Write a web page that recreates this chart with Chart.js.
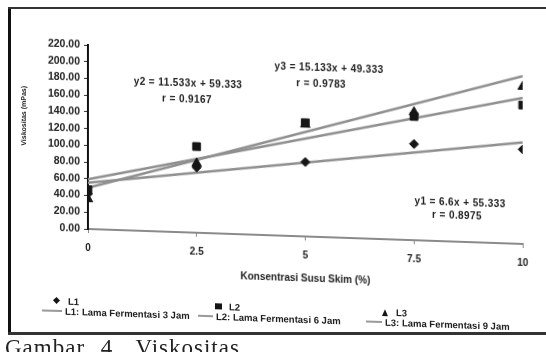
<!DOCTYPE html>
<html>
<head>
<meta charset="utf-8">
<script src="https://cdn.jsdelivr.net/npm/chart.js@4.4.1/dist/chart.umd.min.js"></script>
<style>
  html, body { margin: 0; padding: 0; background: #fff; }
  #wrap { position: relative; width: 546px; height: 352px; overflow: hidden;
          font-family: "Liberation Sans", Arial, sans-serif; color: #222; }
  /* the scan is slightly sheared: the right side sits lower than the left */
  #sheet { position: absolute; left: 0; top: 0; width: 546px; height: 352px;
           transform: skewY(1.97deg); transform-origin: 88px 0; }
  #chart { position: absolute; left: 0; top: 0; }
  .frame-l { position: absolute; left: 8px; top: 7px; width: 3px; height: 328px; background: #111; }
  .frame-t { position: absolute; left: 8px; top: 7px; width: 538px; height: 2px; background: #333; }
  .frame-b { position: absolute; left: 8px; top: 332px; width: 538px; height: 3px; background: #333; }
  .note { position: absolute; font-size: 10px; font-weight: bold; white-space: nowrap; color: #222;
          letter-spacing: 0.4px; transform: translate(-50%, -50%); }
  .lg { position: absolute; font-size: 9.5px; font-weight: bold; white-space: nowrap; color: #222;
        transform: translateY(-50%); }
  .lg-line { position: absolute; height: 2px; background: #999; }
  .ytitle { position: absolute; left: 23px; top: 118px; font-size: 7px; font-weight: bold;
            white-space: nowrap; color: #222; transform: translate(-50%, -50%) rotate(-90deg); }
  .caption { position: absolute; left: 5px; top: 335px; font-family: "Liberation Serif", serif;
             font-size: 23px; color: #222; white-space: nowrap; letter-spacing: 1px; word-spacing: 9px; }
</style>
</head>
<body>
<div id="wrap">
  <div id="sheet">
    <canvas id="chart" width="546" height="352"></canvas>

    <div class="ytitle">Viskositas (mPas)</div>

    <div class="note" style="left:188px; top:79px;">y2 = 11.533x + 59.333</div>
    <div class="note" style="left:187px; top:95px;">r = 0.9167</div>
    <div class="note" style="left:329px; top:59px;">y3 = 15.133x + 49.333</div>
    <div class="note" style="left:321px; top:75px;">r = 0.9783</div>
    <div class="note" style="left:460px; top:189px;">y1 = 6.6x + 55.333</div>
    <div class="note" style="left:457px; top:202px;">r = 0.8975</div>

    <div id="legend"></div>
  </div>

  <div class="frame-l"></div>
  <div class="frame-t"></div>
  <div class="frame-b"></div>
  <div class="caption">Gambar 4. Viskositas</div>
</div>

<script>
// konsentrasi susu skim (%)
const konsentrasi = [0, 2.5, 5, 7.5, 10];

// viskositas per lama fermentasi
const l1Values = [42, 78, 89, 115, 113];
const l2Values = [47, 103, 136, 148, 166];
const l3Values = [36, 83, 134, 153, 188];

// trend line end points (x = 0 and x = 10)
const trendX = [0, 10];
const trend1 = [55.3, 121.3];
const trend2 = [59.3, 174.7];
const trend3 = [49.3, 200.7];

const pointLabels = ['L1', 'L2', 'L3'];
const lineLabels = [
  'L1: Lama Fermentasi 3 Jam',
  'L2: Lama Fermentasi 6 Jam',
  'L3: Lama Fermentasi 9 Jam'
];

const yTicks = [0, 20, 40, 60, 80, 100, 120, 140, 160, 180, 200, 220];

function pairs(xs, ys) {
  return xs.map((x, i) => ({ x: x, y: ys[i] }));
}

const markColor = '#151515';
const trendColor = '#8f8f8f';

function trendSet(label, values) {
  return {
    type: 'line',
    label: label,
    data: pairs(trendX, values),
    borderColor: trendColor,
    borderWidth: 2.5,
    pointRadius: 0,
    fill: false,
    order: 2
  };
}

function pointSet(label, values, style, radius) {
  return {
    type: 'scatter',
    label: label,
    data: pairs(konsentrasi, values),
    pointStyle: style,
    pointRadius: radius,
    backgroundColor: markColor,
    borderColor: markColor,
    borderWidth: 1,
    showLine: false,
    order: 1
  };
}

const ctx = document.getElementById('chart').getContext('2d');
const chart = new Chart(ctx, {
  type: 'scatter',
  data: {
    datasets: [
      trendSet(lineLabels[0], trend1),
      trendSet(lineLabels[1], trend2),
      trendSet(lineLabels[2], trend3),
      pointSet(pointLabels[0], l1Values, 'rectRot', 4.5),
      pointSet(pointLabels[1], l2Values, 'rect', 5.5),
      pointSet(pointLabels[2], l3Values, 'triangle', 5.5)
    ]
  },
  options: {
    responsive: false,
    animation: false,
    layout: { padding: { left: 0, right: 23, top: 45, bottom: 73 } },
    plugins: {
      legend: { display: false },
      tooltip: { enabled: false }
    },
    scales: {
      x: {
        type: 'linear',
        min: 0,
        max: 10,
        afterFit: scale => { scale.height = 50; },
        afterBuildTicks: scale => {
          scale.ticks = konsentrasi.map(v => ({ value: v }));
        },
        ticks: {
          color: '#222',
          font: { size: 10, weight: 'bold' },
          padding: 9,
          maxRotation: 0,
          callback: v => String(v)
        },
        grid: { drawOnChartArea: false, tickLength: 4, color: '#888' },
        border: { color: '#8a8a8a', width: 2 },
        title: {
          display: true,
          text: 'Konsentrasi Susu Skim (%)',
          color: '#222',
          font: { size: 10, weight: 'bold' },
          padding: { top: 2, bottom: 2 }
        }
      },
      y: {
        min: 0,
        max: 220,
        afterFit: scale => { scale.width = 88; },
        afterBuildTicks: scale => {
          scale.ticks = yTicks.map(v => ({ value: v }));
        },
        ticks: {
          color: '#222',
          font: { size: 10.5, weight: 'bold' },
          padding: 4,
          callback: v => v.toFixed(2)
        },
        grid: { drawOnChartArea: false, tickLength: 4, color: '#333' },
        border: { color: '#111', width: 2 }
      }
    }
  }
});

// legend under the plot, built by hand to keep the original arrangement
const legendSpots = [
  { mx: 57, lx: 42, tx: 65 },
  { mx: 218, lx: 198, tx: 216 },
  { mx: 385, lx: 366, tx: 385 }
];
const markerY = 302;
const lineY = 312;
const markerShapes = [
  'width:5px;height:5px;background:#151515;transform:rotate(45deg);',
  'width:7px;height:6px;background:#151515;',
  'width:0;height:0;border-left:3.5px solid transparent;border-right:3.5px solid transparent;border-bottom:7px solid #151515;'
];
const legend = document.getElementById('legend');
legendSpots.forEach((s, i) => {
  legend.insertAdjacentHTML('beforeend',
    '<div style="position:absolute;left:' + (s.mx - 3.5) + 'px;top:' + (markerY - 3.5) + 'px;' + markerShapes[i] + '"></div>' +
    '<div class="lg" style="left:' + (s.mx + 11) + 'px;top:' + markerY + 'px;">' + pointLabels[i] + '</div>' +
    '<div class="lg-line" style="left:' + s.lx + 'px;top:' + (lineY - 1) + 'px;width:' + (s.tx - s.lx - 3) + 'px;"></div>' +
    '<div class="lg" style="left:' + s.tx + 'px;top:' + lineY + 'px;">' + lineLabels[i] + '</div>');
});
</script>
</body>
</html>
